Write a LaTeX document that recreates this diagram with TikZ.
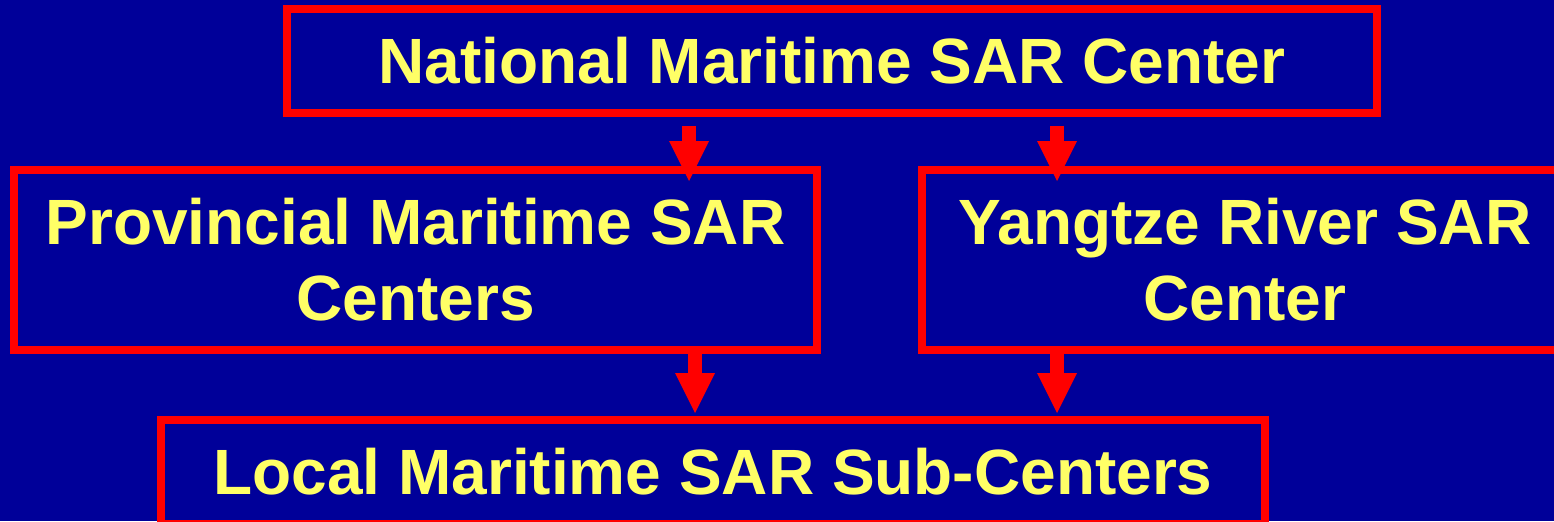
\documentclass[tikz,border=0pt]{standalone}
\usepackage{fontspec}
\setmainfont{Liberation Sans}
\usetikzlibrary{arrows.meta,calc}
\definecolor{sarblue}{RGB}{0,0,153}
\definecolor{sarred}{RGB}{255,0,0}
\definecolor{saryellow}{RGB}{255,255,102}

\begin{document}
\begin{tikzpicture} [x=0.5pt,y=-0.5pt,
		box/.style={draw=sarred,line width=4pt,text=saryellow,align=center,inner sep=0pt,font=\bfseries\fontsize{32}{38}\selectfont},
		down/.style={draw=sarred,line width=7pt,-{Triangle[width=20pt,length=20pt,line width=0pt]}}]
		\useasboundingbox (0,0) rectangle (1554,521);
		\clip (0,0) rectangle (1554,521);
		\fill[sarblue] (0,0) rectangle (1554,521);
		
		\node[box,minimum width=545pt,minimum height=51.75pt] (nat) at (832,61) {National Maritime SAR Center};
		\node[box,minimum width=401.5pt,minimum height=90pt] (prov) at (415.5,260) {Provincial Maritime SAR\\Centers};
		\node[box,minimum width=323pt,minimum height=90pt] (yang) at (1245,260) {Yangtze River SAR\\Center};
		\node[box,minimum width=552pt,minimum height=52pt] (loc) at (713,472) {Local Maritime SAR Sub-Centers};
		
		\coordinate (c1) at (689,0);
		\coordinate (c2) at (1057,0);
		\coordinate (c3) at (695,0);
		\draw[down] ($(nat.south -| c1)+(0,9)$) -- ($(prov.north -| c1)+(0,15)$);
		\draw[down] ($(nat.south -| c2)+(0,9)$) -- ($(yang.north -| c2)+(0,15)$);
		\draw[down] ($(prov.south -| c3)+(0,-6)$) -- ($(loc.north -| c3)+(0,-3)$);
		\draw[down] ($(yang.south -| c2)+(0,-6)$) -- ($(loc.north -| c2)+(0,-3)$);
	\end{tikzpicture}
\end{document}
